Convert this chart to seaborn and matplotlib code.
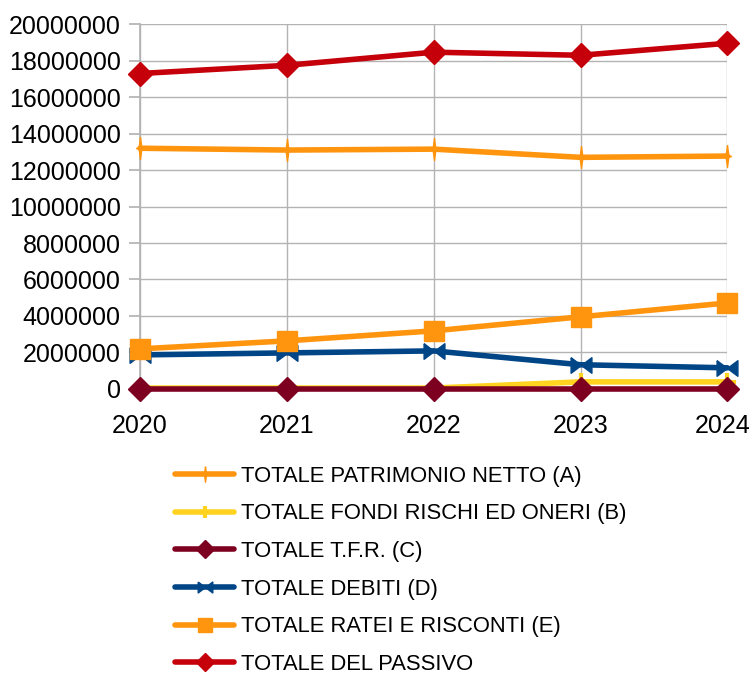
import numpy as np
import pandas as pd
import matplotlib
matplotlib.use("Agg")
import matplotlib.pyplot as plt
from matplotlib.path import Path
from matplotlib.lines import Line2D
import matplotlib.transforms as mtransforms
import seaborn as sns

sns.set_theme(style="white")
plt.rcParams['font.family'] = ['Liberation Sans', 'DejaVu Sans']

years = [2020, 2021, 2022, 2023, 2024]
patrimonio_netto = [13200000, 13100000, 13150000, 12700000, 12770000]
fondi_rischi = [40000, 40000, 40000, 380000, 380000]
tfr = [10000, 10000, 10000, 10000, 10000]
debiti = [1860000, 1970000, 2080000, 1320000, 1150000]
ratei_risconti = [2190000, 2630000, 3180000, 3950000, 4710000]
totale_passivo = [17300000, 17750000, 18470000, 18300000, 18960000]

labels = ["TOTALE PATRIMONIO NETTO (A)", "TOTALE FONDI RISCHI ED ONERI (B)",
          "TOTALE T.F.R. (C)", "TOTALE DEBITI (D)",
          "TOTALE RATEI E RISCONTI (E)", "TOTALE DEL PASSIVO"]
values = [patrimonio_netto, fondi_rischi, tfr, debiti, ratei_risconti, totale_passivo]
colors = ["#ff950e", "#ffd320", "#7e0021", "#004586", "#ff950e", "#c5000b"]

# thin four-point star and bowtie marker shapes
star = Path([(0, 1), (0.12, 0.1), (0.35, 0), (0.12, -0.1), (0, -1),
             (-0.12, -0.1), (-0.35, 0), (-0.12, 0.1), (0, 1)])
bowtie = Path([(-1, 0.75), (0, 0), (1, 0.75), (1, -0.75), (0, 0), (-1, -0.75), (-1, 0.75)])
markers = [star, "+", "D", bowtie, "s", "D"]
msizes = [16, 13, 12.5, 15, 14, 12.5]

rows = []
for lab, vals in zip(labels, values):
    for y, v in zip(years, vals):
        rows.append({"anno": y, "valore": v, "serie": lab})
df = pd.DataFrame(rows)

fig = plt.figure(figsize=(7.53, 6.75), dpi=100)
ax = fig.add_axes([0.186, 0.424, 0.78, 0.54])

handles = []
for lab, col, mk, ms in zip(labels, colors, markers, msizes):
    sub = df[df["serie"] == lab]
    sns.lineplot(data=sub, x="anno", y="valore", ax=ax, color=col, lw=4,
                 marker=mk, markersize=ms, markeredgecolor=col,
                 markeredgewidth=3 if mk == "+" else 1, legend=False, zorder=3,
                 clip_on=False)
    handles.append(Line2D([0], [0], color=col, lw=4, marker=mk, markersize=ms * 0.7,
                          markeredgecolor=col,
                          markeredgewidth=3 if mk == "+" else 1))

ax.set_xlim(2020, 2024)
ax.set_ylim(0, 20000000)
ax.set_xticks(years)
ax.set_yticks(np.arange(0, 20000001, 2000000))
ax.yaxis.set_major_formatter(matplotlib.ticker.FuncFormatter(lambda v, p: f"{int(v)}"))
ax.grid(True, color="#b3b3b3", lw=1)
ax.set_axisbelow(True)
for s in ["top", "right"]:
    ax.spines[s].set_visible(False)
ax.spines["left"].set_color("#b3b3b3")
ax.spines["bottom"].set_color("#b3b3b3")
ax.tick_params(axis="both", labelsize=18, labelcolor="black", length=8, color="#b3b3b3",
               direction="out", left=True, bottom=False)
ax.tick_params(axis="y", pad=6)
ax.tick_params(axis="x", pad=10)
ax.set_xlabel("")
ax.set_ylabel("")

# keep the last year label inside the figure
last = ax.get_xticklabels()[-1]
last.set_transform(last.get_transform() + mtransforms.ScaledTranslation(-5 / 100, 0, fig.dpi_scale_trans))

leg = fig.legend(handles, labels, loc="upper left", bbox_to_anchor=(0.2324, 0.31),
                 frameon=False, fontsize=15.8, handlelength=2.7, handletextpad=0.3,
                 labelspacing=0.76, borderpad=0, borderaxespad=0, labelcolor="black")

fig.savefig("out.png", dpi=100)
